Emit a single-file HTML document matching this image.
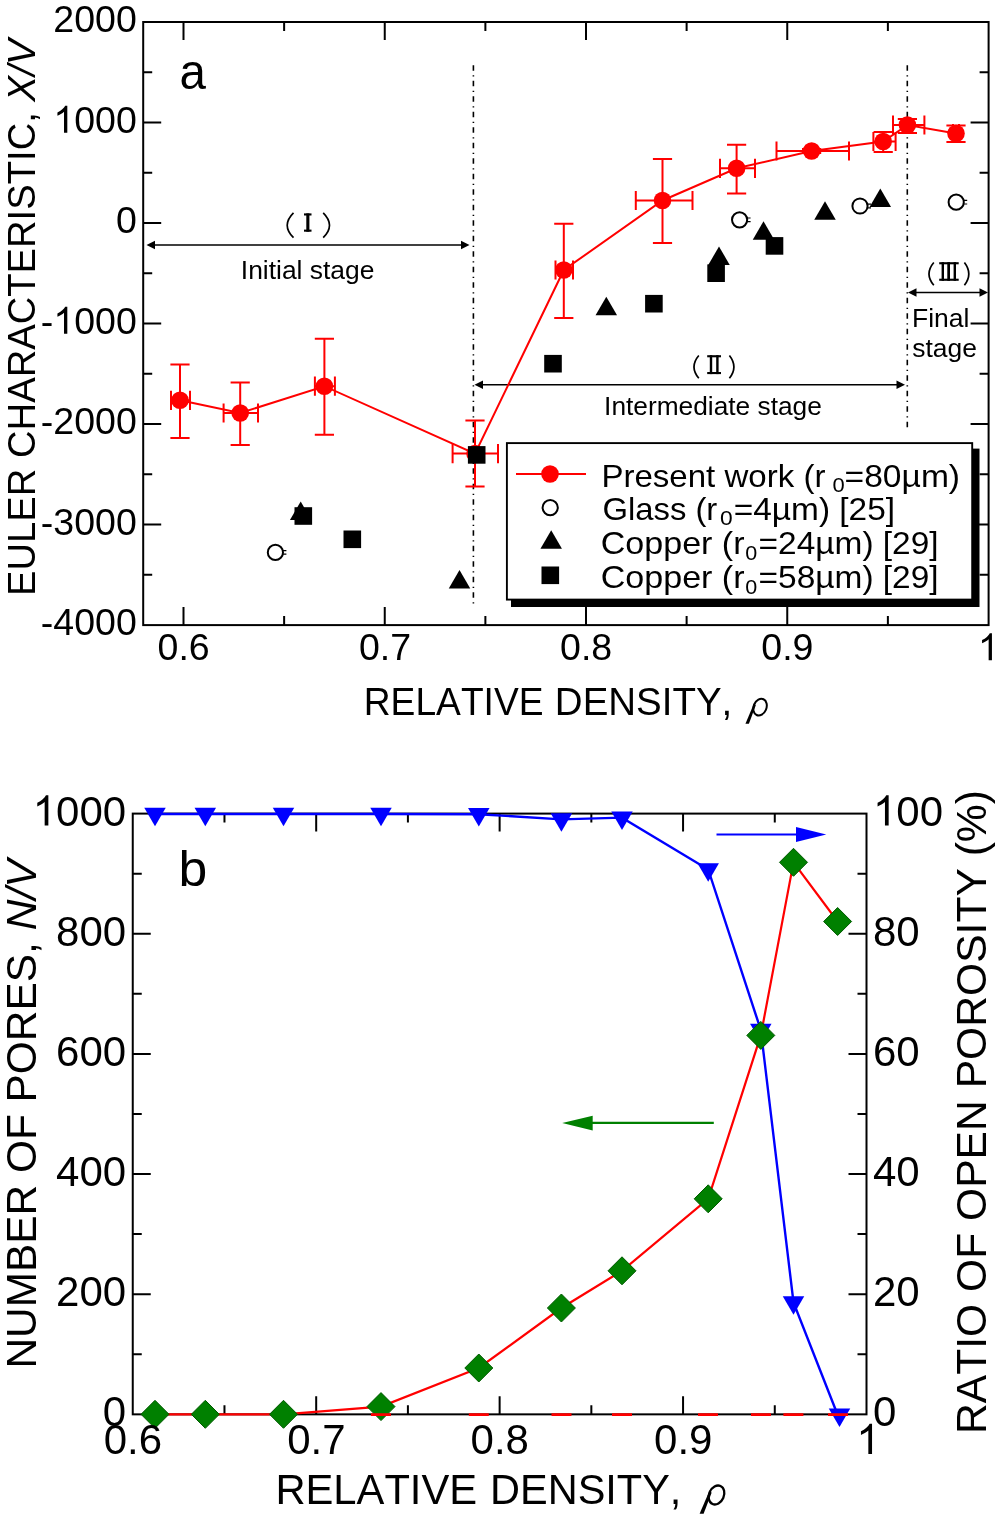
<!DOCTYPE html>
<html><head><meta charset="utf-8"><title>Euler characteristic and pore statistics vs relative density</title>
<style>
html,body{margin:0;padding:0;background:#fff;}
svg{display:block;will-change:transform;}
text{font-family:"Liberation Sans", sans-serif;font-kerning:none;}
</style></head><body>
<svg width="1000" height="1519" viewBox="0 0 1000 1519">
<rect width="1000" height="1519" fill="#fff"/>
<path d="M183.50 625.1v-18M183.50 22.0v18M284.13 625.1v-9M284.13 22.0v9M384.75 625.1v-18M384.75 22.0v18M485.38 625.1v-9M485.38 22.0v9M586.00 625.1v-18M586.00 22.0v18M686.62 625.1v-9M686.62 22.0v9M787.25 625.1v-18M787.25 22.0v18M887.88 625.1v-9M887.88 22.0v9M143.2 574.75h9M988.6 574.75h-9M143.2 524.50h18M988.6 524.50h-18M143.2 474.25h9M988.6 474.25h-9M143.2 424.00h18M988.6 424.00h-18M143.2 373.75h9M988.6 373.75h-9M143.2 323.50h18M988.6 323.50h-18M143.2 273.25h9M988.6 273.25h-9M143.2 223.00h18M988.6 223.00h-18M143.2 172.75h9M988.6 172.75h-9M143.2 122.50h18M988.6 122.50h-18M143.2 72.25h9M988.6 72.25h-9" stroke="#000" stroke-width="2" fill="none"/>
<path d="M473.4 65.3V605M907.3 65.3V430.5" stroke="#000" stroke-width="1.6" stroke-dasharray="5.5 4.5 1.3 4.2" fill="none"/>
<path d="M154.0 245.0H462.0" stroke="#000" stroke-width="1.6"/><path d="M469.5 245.0l-8.5 -4.2v8.4z" fill="#000"/><path d="M146.5 245.0l8.5 -4.2v8.4z" fill="#000"/>
<path d="M482.0 384.8H897.5" stroke="#000" stroke-width="1.6"/><path d="M905 384.8l-8.5 -4.2v8.4z" fill="#000"/><path d="M474.5 384.8l8.5 -4.2v8.4z" fill="#000"/>
<path d="M915.5 292.5H980.5" stroke="#000" stroke-width="1.6"/><path d="M988 292.5l-8.5 -4.2v8.4z" fill="#000"/><path d="M908 292.5l8.5 -4.2v8.4z" fill="#000"/>
<path d="M180.0 364.6V438.0M170.4 364.6h19.2M170.4 438.0h19.2M171.0 400.3H190.0M171.0 390.7v19.2M190.0 390.7v19.2M240.2 382.6V445.0M230.6 382.6h19.2M230.6 445.0h19.2M223.6 413.0H258.0M223.6 403.4v19.2M258.0 403.4v19.2M324.4 338.8V434.8M314.79999999999995 338.8h19.2M314.79999999999995 434.8h19.2M314.9 386.2H334.9M314.9 376.59999999999997v19.2M334.9 376.59999999999997v19.2M475.0 420.6V486.6M465.4 420.6h19.2M465.4 486.6h19.2M452.6 453.6H498.0M452.6 444.0v19.2M498.0 444.0v19.2M563.8 223.8V318.0M554.1999999999999 223.8h19.2M554.1999999999999 318.0h19.2M555.5 270.0H573.0M555.5 260.4v19.2M573.0 260.4v19.2M662.5 159.0V243.0M652.9 159.0h19.2M652.9 243.0h19.2M635.8 200.5H692.5M635.8 190.9v19.2M692.5 190.9v19.2M736.6 144.8V193.5M727.0 144.8h19.2M727.0 193.5h19.2M720.0 168.3H755.0M720.0 158.70000000000002v19.2M755.0 158.70000000000002v19.2M811.6 149.0V153.0M802.0 149.0h19.2M802.0 153.0h19.2M776.5 151.0H849.0M776.5 141.4v19.2M849.0 141.4v19.2M883.2 132.0V152.0M873.6 132.0h19.2M873.6 152.0h19.2M873.4 141.5H895.6M873.4 131.9v19.2M895.6 131.9v19.2M907.4 119.0V133.0M897.8 119.0h19.2M897.8 133.0h19.2M893.0 125.0H924.4M893.0 115.4v19.2M924.4 115.4v19.2M956.0 125.6V142.0M946.4 125.6h19.2M946.4 142.0h19.2M953.0 133.5H959.0M953.0 123.9v19.2M959.0 123.9v19.2" stroke="#f00" stroke-width="2" fill="none"/>
<polyline points="180.0,400.3 240.2,413.0 324.4,386.2 475.0,453.6 563.8,270.0 662.5,200.5 736.6,168.3 811.6,151.0 883.2,141.5 907.4,125.0 956.0,133.5" stroke="#f00" stroke-width="2" fill="none"/>
<circle cx="180.0" cy="400.3" r="8.8" fill="#f00"/>
<circle cx="240.2" cy="413.0" r="8.8" fill="#f00"/>
<circle cx="324.4" cy="386.2" r="8.8" fill="#f00"/>
<circle cx="475.0" cy="453.6" r="8.8" fill="#f00"/>
<circle cx="563.8" cy="270.0" r="8.8" fill="#f00"/>
<circle cx="662.5" cy="200.5" r="8.8" fill="#f00"/>
<circle cx="736.6" cy="168.3" r="8.8" fill="#f00"/>
<circle cx="811.6" cy="151.0" r="8.8" fill="#f00"/>
<circle cx="883.2" cy="141.5" r="8.8" fill="#f00"/>
<circle cx="907.4" cy="125.0" r="8.8" fill="#f00"/>
<circle cx="956.0" cy="133.5" r="8.8" fill="#f00"/>
<circle cx="275.4" cy="552.4" r="7.6" fill="#fff" stroke="#000" stroke-width="2"/>
<path d="M282.4 550.6h4M282.4 554.1999999999999h4" stroke="#000" stroke-width="1.2"/>
<circle cx="739.6" cy="219.8" r="7.6" fill="#fff" stroke="#000" stroke-width="2"/>
<path d="M746.6 218.0h4M746.6 221.60000000000002h4" stroke="#000" stroke-width="1.2"/>
<circle cx="860.0" cy="206.0" r="7.6" fill="#fff" stroke="#000" stroke-width="2"/>
<path d="M867.0 204.2h4M867.0 207.8h4" stroke="#000" stroke-width="1.2"/>
<circle cx="956.2" cy="202.2" r="7.6" fill="#fff" stroke="#000" stroke-width="2"/>
<path d="M963.2 200.39999999999998h4M963.2 204.0h4" stroke="#000" stroke-width="1.2"/>
<path d="M300.7 501.47L311.45 519.97H289.95z" fill="#000"/>
<path d="M459.5 569.97L470.25 588.47H448.75z" fill="#000"/>
<path d="M606.3 296.67L617.05 315.17H595.55z" fill="#000"/>
<path d="M719.0 246.47L729.75 264.97H708.25z" fill="#000"/>
<path d="M763.5 221.37L774.25 239.87H752.75z" fill="#000"/>
<path d="M825.0 201.27L835.75 219.77H814.25z" fill="#000"/>
<path d="M880.3 188.57L891.05 207.07H869.55z" fill="#000"/>
<rect x="294.50" y="507.20" width="17.6" height="17.6" fill="#000"/>
<rect x="343.50" y="530.50" width="17.6" height="17.6" fill="#000"/>
<rect x="467.90" y="446.10" width="17.6" height="17.6" fill="#000"/>
<rect x="544.20" y="354.90" width="17.6" height="17.6" fill="#000"/>
<rect x="645.10" y="294.90" width="17.6" height="17.6" fill="#000"/>
<rect x="707.30" y="264.40" width="17.6" height="17.6" fill="#000"/>
<rect x="765.70" y="237.10" width="17.6" height="17.6" fill="#000"/>
<rect x="511" y="448.6" width="468.5" height="158.4" fill="#000"/>
<rect x="506.9" y="443.1" width="465.3" height="156.5" fill="#fff" stroke="#000" stroke-width="1.9"/>
<path d="M516 474H586" stroke="#f00" stroke-width="2"/>
<circle cx="550" cy="474" r="8.8" fill="#f00"/>
<circle cx="550.2" cy="507.6" r="7.6" fill="#fff" stroke="#000" stroke-width="2"/>
<path d="M551.2 530.17L561.95 548.67H540.45z" fill="#000"/>
<rect x="541.50" y="566.50" width="17.6" height="17.6" fill="#000"/>
<text transform="translate(601.39 486.50) scale(1.0841 1.0)" style="font-family:'Liberation Sans', sans-serif;font-size:30.5px;" fill="#000">Present work (r</text>
<text transform="translate(832.54 492.00) scale(1.0715 1.0)" style="font-family:'Liberation Sans', sans-serif;font-size:20.5px;" fill="#000">0</text>
<text transform="translate(844.56 486.50) scale(1.1016 1.0)" style="font-family:'Liberation Sans', sans-serif;font-size:30.5px;" fill="#000">=80µm)</text>
<text transform="translate(602.45 519.70) scale(1.0763 1.0)" style="font-family:'Liberation Sans', sans-serif;font-size:30.5px;" fill="#000">Glass (r</text>
<text transform="translate(720.11 525.20) scale(1.1123 1.0)" style="font-family:'Liberation Sans', sans-serif;font-size:20.5px;" fill="#000">0</text>
<text transform="translate(733.77 519.70) scale(1.0954 1.0)" style="font-family:'Liberation Sans', sans-serif;font-size:30.5px;" fill="#000">=4µm) [25]</text>
<text transform="translate(600.77 554.20) scale(1.1162 1.0)" style="font-family:'Liberation Sans', sans-serif;font-size:30.5px;" fill="#000">Copper (r</text>
<text transform="translate(745.16 559.70) scale(1.0511 1.0)" style="font-family:'Liberation Sans', sans-serif;font-size:20.5px;" fill="#000">0</text>
<text transform="translate(758.57 554.20) scale(1.0962 1.0)" style="font-family:'Liberation Sans', sans-serif;font-size:30.5px;" fill="#000">=24µm) [29]</text>
<text transform="translate(600.77 588.00) scale(1.1162 1.0)" style="font-family:'Liberation Sans', sans-serif;font-size:30.5px;" fill="#000">Copper (r</text>
<text transform="translate(745.16 593.50) scale(1.0511 1.0)" style="font-family:'Liberation Sans', sans-serif;font-size:20.5px;" fill="#000">0</text>
<text transform="translate(758.57 588.00) scale(1.0962 1.0)" style="font-family:'Liberation Sans', sans-serif;font-size:30.5px;" fill="#000">=58µm) [29]</text>
<rect x="143.2" y="22.0" width="845.4000000000001" height="603.1" fill="none" stroke="#000" stroke-width="2"/>
<text transform="translate(240.81 278.50) scale(0.9971 1.0)" style="font-family:'Liberation Sans', sans-serif;font-size:26.5px;" fill="#000">Initial stage</text>
<text transform="translate(604.07 415.40) scale(0.9927 1.0)" style="font-family:'Liberation Sans', sans-serif;font-size:26.5px;" fill="#000">Intermediate stage</text>
<text transform="translate(912.03 326.90) scale(1.0000 1.0)" style="font-family:'Liberation Sans', sans-serif;font-size:26.5px;" fill="#000">Final</text>
<text transform="translate(912.26 357.20) scale(0.9982 1.0)" style="font-family:'Liberation Sans', sans-serif;font-size:26.5px;" fill="#000">stage</text>
<path d="M293.5 212.8Q280.90 225.25 293.5 237.7" stroke="#000" stroke-width="1.7" fill="none"/><path d="M323.2 212.8Q335.80 225.25 323.2 237.7" stroke="#000" stroke-width="1.7" fill="none"/>
<rect x="304.0" y="213.4" width="7.5" height="2.1"/><rect x="304.0" y="229.6" width="7.5" height="2.1"/><rect x="306.3" y="213.4" width="3.099999999999966" height="18.299999999999983"/>
<path d="M698.8 355.5Q689.20 366.9 698.8 378.3" stroke="#000" stroke-width="1.7" fill="none"/><path d="M729.4 355.5Q738.40 366.9 729.4 378.3" stroke="#000" stroke-width="1.7" fill="none"/>
<rect x="707.2" y="355.2" width="13.799999999999955" height="2.1"/><rect x="707.2" y="372.0" width="13.799999999999955" height="2.1"/><rect x="709.8" y="355.2" width="2.400000000000091" height="18.900000000000034"/><rect x="716.2" y="355.2" width="2.3999999999999773" height="18.900000000000034"/>
<path d="M933.8 262.5Q924.20 273.9 933.8 285.3" stroke="#000" stroke-width="1.7" fill="none"/><path d="M964.4 262.5Q973.20 273.9 964.4 285.3" stroke="#000" stroke-width="1.7" fill="none"/>
<rect x="939.2" y="262.2" width="19.5" height="2.1"/><rect x="939.2" y="278.7" width="19.5" height="2.1"/><rect x="941.6" y="262.2" width="2.3999999999999773" height="18.600000000000023"/><rect x="947.3" y="262.2" width="2.7000000000000455" height="18.600000000000023"/><rect x="953.6" y="262.2" width="2.3999999999999773" height="18.600000000000023"/>
<text transform="translate(179.48 89.20) scale(0.9500 1.0)" style="font-family:'Liberation Sans', sans-serif;font-size:50px;" fill="#000">a</text>
<text transform="translate(53.34 32.20) scale(1.0000 1.0)" style="font-family:'Liberation Sans', sans-serif;font-size:37.5px;" fill="#000">2000</text>
<g transform="translate(53.34 132.70) scale(1.0000 1.0)" fill="#000"><path transform="translate(0.00 0) scale(0.01831 -0.01831)" d="M763 0H583V1147Q518 1085 412 1023Q307 961 223 930V1104Q374 1175 487 1276Q600 1377 647 1472H763Z"/><text x="20.86" style="font-family:'Liberation Sans', sans-serif;font-size:37.5px;">000</text></g>
<text transform="translate(115.91 233.20) scale(1.0000 1.0)" style="font-family:'Liberation Sans', sans-serif;font-size:37.5px;" fill="#000">0</text>
<g transform="translate(40.85 333.70) scale(1.0000 1.0)" fill="#000"><text x="0.00" style="font-family:'Liberation Sans', sans-serif;font-size:37.5px;">-</text><path transform="translate(12.49 0) scale(0.01831 -0.01831)" d="M763 0H583V1147Q518 1085 412 1023Q307 961 223 930V1104Q374 1175 487 1276Q600 1377 647 1472H763Z"/><text x="33.34" style="font-family:'Liberation Sans', sans-serif;font-size:37.5px;">000</text></g>
<text transform="translate(40.85 434.20) scale(1.0000 1.0)" style="font-family:'Liberation Sans', sans-serif;font-size:37.5px;" fill="#000">-2000</text>
<text transform="translate(40.85 534.70) scale(1.0000 1.0)" style="font-family:'Liberation Sans', sans-serif;font-size:37.5px;" fill="#000">-3000</text>
<text transform="translate(40.85 635.20) scale(1.0000 1.0)" style="font-family:'Liberation Sans', sans-serif;font-size:37.5px;" fill="#000">-4000</text>
<text transform="translate(157.53 660.30) scale(1.0000 1.0)" style="font-family:'Liberation Sans', sans-serif;font-size:37.5px;" fill="#000">0.6</text>
<text transform="translate(358.90 660.30) scale(1.0000 1.0)" style="font-family:'Liberation Sans', sans-serif;font-size:37.5px;" fill="#000">0.7</text>
<text transform="translate(560.02 660.30) scale(1.0000 1.0)" style="font-family:'Liberation Sans', sans-serif;font-size:37.5px;" fill="#000">0.8</text>
<text transform="translate(761.34 660.30) scale(1.0000 1.0)" style="font-family:'Liberation Sans', sans-serif;font-size:37.5px;" fill="#000">0.9</text>
<g transform="translate(977.97 660.30) scale(1.0000 1.0)" fill="#000"><path transform="translate(0.00 0) scale(0.01831 -0.01831)" d="M763 0H583V1147Q518 1085 412 1023Q307 961 223 930V1104Q374 1175 487 1276Q600 1377 647 1472H763Z"/></g>
<text transform="translate(363.75 715.00) scale(0.9662 1.0)" style="font-family:'Liberation Sans', sans-serif;font-size:38.5px;" fill="#000">RELATIVE</text>
<text transform="translate(554.84 715.00) scale(0.9998 1.0)" style="font-family:'Liberation Sans', sans-serif;font-size:38.5px;" fill="#000">DENSITY,</text>
<g transform="translate(140.984 -608.462) scale(0.864 0.88)"><ellipse cx="716.5" cy="1495.0" rx="7.4" ry="9.8" transform="rotate(24 716.5 1495)" fill="none" stroke="#000" stroke-width="2.3"/><path d="M709.6 1490.5L711.6 1492.8L703.6 1513.8L699.6 1513.8Z" fill="#000"/></g>
<text transform="translate(34.50 595.93) rotate(-90) scale(0.9870 1.0)" style="font-family:'Liberation Sans', sans-serif;font-size:38.7px;" fill="#000">EULER CHARACTERISTIC, </text>
<text transform="translate(34.50 101.66) rotate(-90) scale(1.0000 1.0)" style="font-family:'Liberation Sans', sans-serif;font-size:38.7px;font-style:italic;" fill="#000">X/V</text>
<path d="M224.47 1414.35v-9M224.47 813.6v9M316.19 1414.35v-18M316.19 813.6v18M407.91 1414.35v-9M407.91 813.6v9M499.63 1414.35v-18M499.63 813.6v18M591.34 1414.35v-9M591.34 813.6v9M683.06 1414.35v-18M683.06 813.6v18M774.78 1414.35v-9M774.78 813.6v9M132.75 1354.27h9M866.5 1354.27h-9M132.75 1294.20h18M866.5 1294.20h-18M132.75 1234.12h9M866.5 1234.12h-9M132.75 1174.05h18M866.5 1174.05h-18M132.75 1113.97h9M866.5 1113.97h-9M132.75 1053.90h18M866.5 1053.90h-18M132.75 993.82h9M866.5 993.82h-9M132.75 933.75h18M866.5 933.75h-18M132.75 873.67h9M866.5 873.67h-9" stroke="#000" stroke-width="2" fill="none"/>
<rect x="132.75" y="813.6" width="733.75" height="600.7499999999999" fill="none" stroke="#000" stroke-width="2"/>
<polyline points="155.0,1414.3 205.3,1414.3 283.5,1414.3 381.0,1406.6 478.8,1368.0 561.4,1308.0 622.0,1270.8 708.2,1198.8 760.8,1035.4 793.5,862.3 837.6,921.5" stroke="#f00" stroke-width="2.2" fill="none"/>
<polyline points="155.0,814.0 205.3,814.0 283.5,814.0 381.0,814.0 478.8,814.2 561.4,819.4 622.0,817.6 708.2,869.5 760.8,1030.0 793.5,1302.4 837.6,1414.7" stroke="#00f" stroke-width="2.4" fill="none"/>
<path d="M155.0 826.33L165.75 807.83H144.25z" fill="#00f"/>
<path d="M205.3 826.33L216.05 807.83H194.55z" fill="#00f"/>
<path d="M283.5 826.33L294.25 807.83H272.75z" fill="#00f"/>
<path d="M381.0 826.33L391.75 807.83H370.25z" fill="#00f"/>
<path d="M478.8 826.53L489.55 808.03H468.05z" fill="#00f"/>
<path d="M561.4 831.73L572.15 813.23H550.65z" fill="#00f"/>
<path d="M622.0 829.93L632.75 811.43H611.25z" fill="#00f"/>
<path d="M708.2 881.83L718.95 863.33H697.45z" fill="#00f"/>
<path d="M760.8 1042.33L771.55 1023.83H750.05z" fill="#00f"/>
<path d="M793.5 1314.73L804.25 1296.23H782.75z" fill="#00f"/>
<path d="M839.5 1427.03L850.25 1408.53H828.75z" fill="#00f"/>
<path d="M155.0 1400.3L169.0 1414.3L155.0 1428.3L141.0 1414.3z" fill="#008000" stroke="#005a00" stroke-width="1"/>
<path d="M205.3 1400.3L219.3 1414.3L205.3 1428.3L191.3 1414.3z" fill="#008000" stroke="#005a00" stroke-width="1"/>
<path d="M283.5 1400.3L297.5 1414.3L283.5 1428.3L269.5 1414.3z" fill="#008000" stroke="#005a00" stroke-width="1"/>
<path d="M381.0 1392.6L395.0 1406.6L381.0 1420.6L367.0 1406.6z" fill="#008000" stroke="#005a00" stroke-width="1"/>
<path d="M478.8 1354.0L492.8 1368.0L478.8 1382.0L464.8 1368.0z" fill="#008000" stroke="#005a00" stroke-width="1"/>
<path d="M561.4 1294.0L575.4 1308.0L561.4 1322.0L547.4 1308.0z" fill="#008000" stroke="#005a00" stroke-width="1"/>
<path d="M622.0 1256.8L636.0 1270.8L622.0 1284.8L608.0 1270.8z" fill="#008000" stroke="#005a00" stroke-width="1"/>
<path d="M708.2 1184.8L722.2 1198.8L708.2 1212.8L694.2 1198.8z" fill="#008000" stroke="#005a00" stroke-width="1"/>
<path d="M760.8 1021.4000000000001L774.8 1035.4L760.8 1049.4L746.8 1035.4z" fill="#008000" stroke="#005a00" stroke-width="1"/>
<path d="M793.5 848.3L807.5 862.3L793.5 876.3L779.5 862.3z" fill="#008000" stroke="#005a00" stroke-width="1"/>
<path d="M837.6 907.5L851.6 921.5L837.6 935.5L823.6 921.5z" fill="#008000" stroke="#005a00" stroke-width="1"/>
<path d="M371.0 1414.6h20M468.8 1414.6h20M551.5 1414.6h20M612.0 1414.6h20M698.0 1414.6h20M751.0 1414.6h20M783.4 1414.6h20M828.0 1414.6h20" stroke="#f00" stroke-width="2.6"/>
<path d="M716.5 834.5H797" stroke="#00f" stroke-width="2.2"/><path d="M826.3 834.5L796 827V842z" fill="#00f"/>
<path d="M592 1122.9H713.8" stroke="#008000" stroke-width="2.2"/><path d="M562.2 1122.9L592.7 1115.8V1130.5z" fill="#008000"/>
<text transform="translate(178.42 885.80) scale(1.0340 1.0)" style="font-family:'Liberation Sans', sans-serif;font-size:50px;" fill="#000">b</text>
<g transform="translate(32.71 825.50) scale(1.0000 1.0)" fill="#000"><path transform="translate(0.00 0) scale(0.02051 -0.02051)" d="M763 0H583V1147Q518 1085 412 1023Q307 961 223 930V1104Q374 1175 487 1276Q600 1377 647 1472H763Z"/><text x="23.36" style="font-family:'Liberation Sans', sans-serif;font-size:42px;">000</text></g>
<text transform="translate(56.07 945.65) scale(1.0000 1.0)" style="font-family:'Liberation Sans', sans-serif;font-size:42px;" fill="#000">800</text>
<text transform="translate(56.07 1065.80) scale(1.0000 1.0)" style="font-family:'Liberation Sans', sans-serif;font-size:42px;" fill="#000">600</text>
<text transform="translate(56.07 1185.95) scale(1.0000 1.0)" style="font-family:'Liberation Sans', sans-serif;font-size:42px;" fill="#000">400</text>
<text transform="translate(56.07 1306.10) scale(1.0000 1.0)" style="font-family:'Liberation Sans', sans-serif;font-size:42px;" fill="#000">200</text>
<text transform="translate(102.78 1426.25) scale(1.0000 1.0)" style="font-family:'Liberation Sans', sans-serif;font-size:42px;" fill="#000">0</text>
<g transform="translate(873.00 825.50) scale(1.0000 1.0)" fill="#000"><path transform="translate(0.00 0) scale(0.02051 -0.02051)" d="M763 0H583V1147Q518 1085 412 1023Q307 961 223 930V1104Q374 1175 487 1276Q600 1377 647 1472H763Z"/><text x="23.36" style="font-family:'Liberation Sans', sans-serif;font-size:42px;">00</text></g>
<text transform="translate(873.00 945.65) scale(1.0000 1.0)" style="font-family:'Liberation Sans', sans-serif;font-size:42px;" fill="#000">80</text>
<text transform="translate(873.00 1065.80) scale(1.0000 1.0)" style="font-family:'Liberation Sans', sans-serif;font-size:42px;" fill="#000">60</text>
<text transform="translate(873.00 1185.95) scale(1.0000 1.0)" style="font-family:'Liberation Sans', sans-serif;font-size:42px;" fill="#000">40</text>
<text transform="translate(873.00 1306.10) scale(1.0000 1.0)" style="font-family:'Liberation Sans', sans-serif;font-size:42px;" fill="#000">20</text>
<text transform="translate(873.00 1426.25) scale(1.0000 1.0)" style="font-family:'Liberation Sans', sans-serif;font-size:42px;" fill="#000">0</text>
<text transform="translate(103.66 1454.00) scale(1.0000 1.0)" style="font-family:'Liberation Sans', sans-serif;font-size:42px;" fill="#000">0.6</text>
<text transform="translate(287.23 1454.00) scale(1.0000 1.0)" style="font-family:'Liberation Sans', sans-serif;font-size:42px;" fill="#000">0.7</text>
<text transform="translate(470.52 1454.00) scale(1.0000 1.0)" style="font-family:'Liberation Sans', sans-serif;font-size:42px;" fill="#000">0.8</text>
<text transform="translate(654.04 1454.00) scale(1.0000 1.0)" style="font-family:'Liberation Sans', sans-serif;font-size:42px;" fill="#000">0.9</text>
<g transform="translate(856.39 1454.00) scale(1.0000 1.0)" fill="#000"><path transform="translate(0.00 0) scale(0.02051 -0.02051)" d="M763 0H583V1147Q518 1085 412 1023Q307 961 223 930V1104Q374 1175 487 1276Q600 1377 647 1472H763Z"/></g>
<text transform="translate(275.38 1504.00) scale(0.9821 1.0)" style="font-family:'Liberation Sans', sans-serif;font-size:42.5px;" fill="#000">RELATIVE</text>
<text transform="translate(490.10 1504.00) scale(0.9762 1.0)" style="font-family:'Liberation Sans', sans-serif;font-size:42.5px;" fill="#000">DENSITY,</text>
<ellipse cx="716.5" cy="1495.0" rx="7.4" ry="9.8" transform="rotate(24 716.5 1495)" fill="none" stroke="#000" stroke-width="2.3"/><path d="M709.6 1490.5L711.6 1492.8L703.6 1513.8L699.6 1513.8Z" fill="#000"/>
<text transform="translate(36.40 1368.58) rotate(-90) scale(0.9980 1.0)" style="font-family:'Liberation Sans', sans-serif;font-size:42.5px;" fill="#000">NUMBER OF PORES, </text>
<text transform="translate(36.40 930.24) rotate(-90) scale(0.9980 1.0)" style="font-family:'Liberation Sans', sans-serif;font-size:42.5px;font-style:italic;" fill="#000">N/V</text>
<text transform="translate(986.00 1434.00) rotate(-90) scale(1.0030 1.0)" style="font-family:'Liberation Sans', sans-serif;font-size:42.5px;" fill="#000">RATIO OF OPEN POROSITY (%)</text>
</svg></body></html>
